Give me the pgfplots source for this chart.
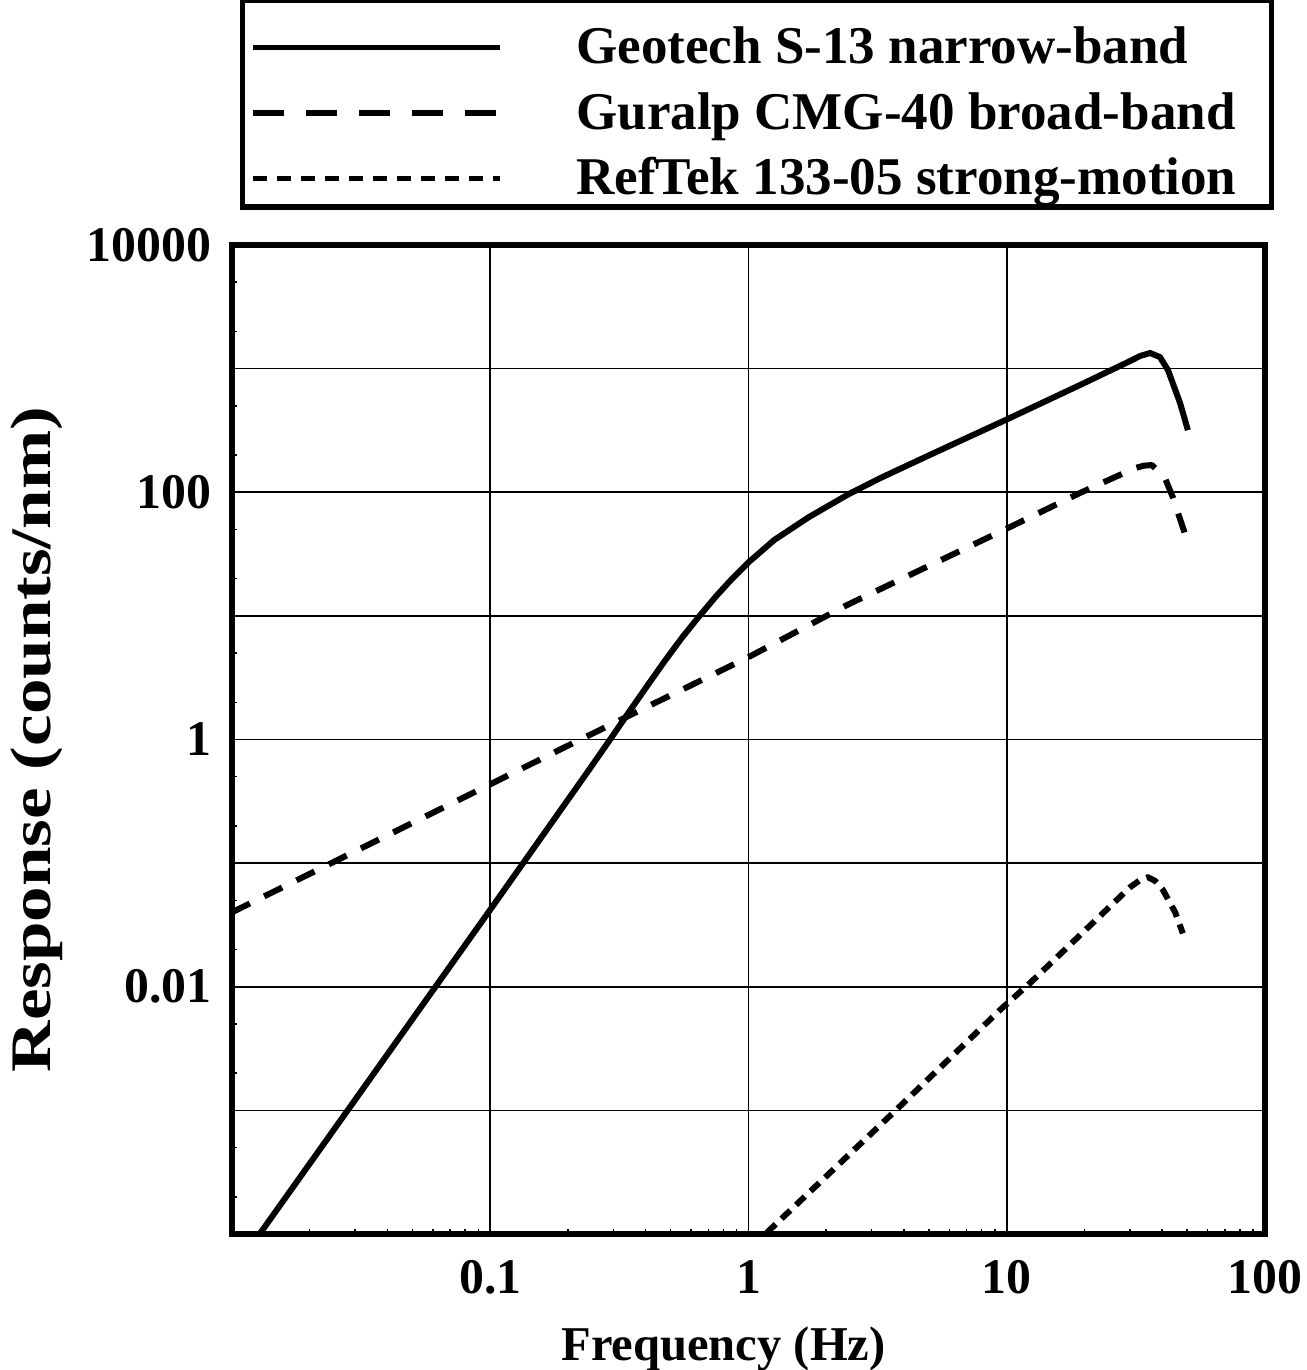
\documentclass[border=0pt]{standalone}
\usepackage{fontspec}
\setmainfont{Liberation Serif}
\usepackage{pgfplots}
\pgfplotsset{compat=1.18}
\pgfplotsset{lastimg/.style={legend image code/.code={\draw[##1] (0bp,-5.2bp) -- (99bp,-5.2bp); \path (0bp,-15bp);}}}
\newcommand{\legtext}[1]{\makebox[275bp][l]{\rule{0pt}{24.8bp}#1}}
\begin{document}
\begin{tikzpicture}
\useasboundingbox (-92.8bp,-54.4bp) rectangle (430bp,493.6bp);
\begin{axis}[
  at={(0,0)}, anchor=south west,
  scale only axis,
  width=413.2bp, height=395.6bp,
  xmode=log, ymode=log,
  xmin=0.01, xmax=100, ymin=1e-4, ymax=1e4,
  xtick={0.01,0.1,1,10,100},
  xticklabels={,0.1,1,10,100},
  ytick={1e-4,1e-3,1e-2,1e-1,1,10,100,1000,10000},
  yticklabels={,,0.01,,1,,100,,10000},
  minor xtick={0.02,0.03,0.04,0.05,0.06,0.07,0.08,0.09,0.2,0.3,0.4,0.5,0.6,0.7,0.8,0.9,2,3,4,5,6,7,8,9,20,30,40,50,60,70,80,90},
  minor ytick={2e-4,5e-4,2e-3,5e-3,2e-2,5e-2,0.2,0.5,2,5,20,50,200,500,2000,5000},
  tick pos=left,
  major tick length=0pt, minor tick length=2bp,
  minor tick style={line width=0.6bp, black},
  grid=major,
  major grid style={black, line width=0.7bp},
  axis line style={black, line width=2.2bp},
  tick label style={font=\fontsize{20}{24}\selectfont\bfseries},
  xticklabel style={anchor=base, inner sep=0pt, yshift=-23.6bp},
  yticklabel style={anchor=east, inner sep=0pt, xshift=-8bp},
  xlabel={Frequency (Hz)},
  ylabel={\scalebox{1.24}[1]{Response (counts/nm)}},
  every axis x label/.style={at={(axis description cs:0.5,0)}, anchor=base,
    yshift=-50.4bp, xshift=-10bp, font=\fontsize{19.5}{24}\selectfont\bfseries},
  every axis y label/.style={at={(axis description cs:0,0.5)}, rotate=90,
    anchor=center, yshift=78bp, font=\fontsize{23}{28}\selectfont\bfseries},
  legend image code/.code={\draw[#1] (0bp,-5.2bp) -- (99bp,-5.2bp);},
  legend cell align=left,
  legend style={at={(rel axis cs:0,1)}, anchor=south west, xshift=3.2bp, yshift=14bp,
    draw=black, line width=2.2bp, inner xsep=3bp, inner ysep=0.5bp, row sep=0pt,
    nodes={inner sep=0pt}, font=\fontsize{21.3}{25.4}\selectfont\bfseries,
    /tikz/every odd column/.append style={column sep=29.2bp}},
]
\addlegendimage{black, line width=2.2bp}
\addlegendentry{\legtext{Geotech S-13 narrow-band}}
\addlegendimage{black, line width=2.2bp, dash pattern=on 12.4bp off 8.8bp}
\addlegendentry{\legtext{Guralp CMG-40 broad-band}}
\addlegendimage{black, line width=2.2bp, dash pattern=on 5.6bp off 4bp, lastimg}
\addlegendentry{\legtext{RefTek 133-05 strong-motion}}

% Geotech S-13
\addplot[forget plot, black, line width=2.4bp, line join=round] coordinates {
  (0.0128,1.0e-4) (0.03,1.22e-3) (0.1,0.042) (0.236,0.532) (0.295,1.04)
  (0.346,1.69) (0.41,2.81) (0.473,4.29) (0.551,6.61) (0.64,9.75) (0.751,14.5)
  (0.859,19.7) (1.0,27.1) (1.26,41.2) (1.71,62.8) (2.44,96.4) (3.21,129)
  (5,199) (10,388) (19.2,736) (30,1150)
  (32.8,1265) (35.9,1337) (39.2,1241) (42.1,975) (46.9,527) (50.3,318)
};
% Guralp CMG-40
\addplot[forget plot, black, line width=2.4bp, line join=round, dash pattern=on 8bp off 6.4bp] coordinates {
  (0.01,0.040) (0.1,0.434) (0.191,0.851) (1.0,4.64) (2.40,12.2) (10,50.8)
  (19.2,98.6) (31.4,157) (34,164) (36.5,166) (41.0,130) (44.0,91) (49.9,41)
};
% RefTek 133-05
\addplot[forget plot, black, line width=2.4bp, line join=round, dash pattern=on 4.8bp off 3.2bp] coordinates {
  (1.18,1.03e-4) (3.66,9.7e-4) (9.5,6.6e-3) (12.3,0.0107) (20,0.0283) (30,0.0637)
  (32.8,0.0728) (35.2,0.077) (37.5,0.072) (40.3,0.0605) (44.9,0.040) (48.1,0.027)
};
\end{axis}
\end{tikzpicture}
\end{document}
